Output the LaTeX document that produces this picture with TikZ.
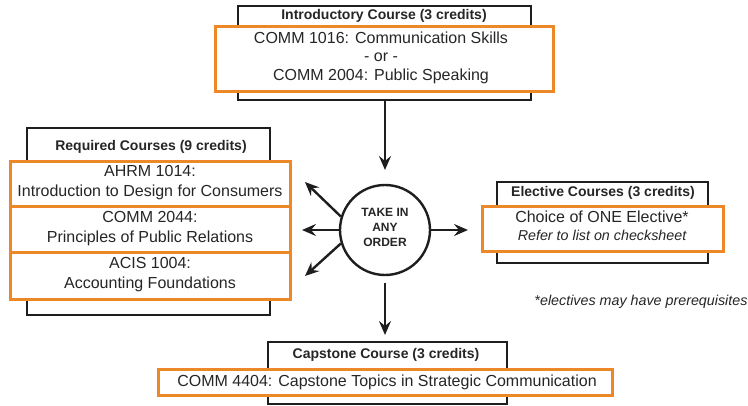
\documentclass[tikz,border=0pt]{standalone}
\usepackage{fontspec}
\setmainfont{Liberation Sans}
\usetikzlibrary{arrows.meta}
\definecolor{borange}{RGB}{236,136,40}
\definecolor{bline}{RGB}{30,30,30}
\tikzset{
  blackbox/.style={draw=bline, line width=2.4pt, inner sep=0, fill=white},
  orangebox/.style={draw=borange, line width=3pt, inner sep=0, fill=white},
  txt/.style={inner sep=0, text height=0.72em, text depth=0pt, text=black!85},
  title/.style={txt, font=\fontsize{14}{16}\selectfont\bfseries},
  body/.style={txt, font=\fontsize{16}{18}\selectfont},
  note/.style={txt, font=\fontsize{14.3}{16}\selectfont\itshape},
  hub/.style={draw=bline, circle, line width=2.4pt, minimum size=90pt, inner sep=0, fill=white},
  hubtxt/.style={txt, font=\fontsize{12}{14}\selectfont\bfseries},
  flow/.style={draw=bline, line width=2.4pt, -{Stealth[length=14pt,width=12pt,inset=5pt]}}
}
\begin{document}
\begin{tikzpicture}[x=1pt,y=-1pt]
\useasboundingbox (0,0) rectangle (748,406);
\fill[white] (0,0) rectangle (748,406);
% Introductory
\node[blackbox, minimum width=293pt, minimum height=94pt] (introB) at (384.5,53) {};
\node[orangebox, minimum width=338pt, minimum height=65pt] (introO) at (384,59.5) {};
\node[title] (introT) at (384,16) {Introductory Course (3 credits)};
\node[body] (introA) at (381,40) {COMM 1016: Communication Skills};
\node[body] (introOr) at (381,58) {- or -};
\node[body] (introC) at (381,77) {COMM 2004: Public Speaking};
% Required
\node[blackbox, minimum width=243pt, minimum height=187pt] (reqB) at (148.5,221.5) {};
\node[orangebox, minimum width=280pt, minimum height=45pt] (reqO1) at (150,184.5) {};
\node[orangebox, minimum width=280pt, minimum height=46pt] (reqO2) at (150,230) {};
\node[orangebox, minimum width=280pt, minimum height=47pt] (reqO3) at (150,276.5) {};
\node[title] (reqT) at (151,147) {Required Courses (9 credits)};
\node[body] (req1a) at (150,173) {AHRM 1014:};
\node[body] (req1b) at (150,193) {Introduction to Design for Consumers};
\node[body] (req2a) at (150,219) {COMM 2044:};
\node[body] (req2b) at (150,239) {Principles of Public Relations};
\node[body] (req3a) at (150,265) {ACIS 1004:};
\node[body] (req3b) at (150,285) {Accounting Foundations};
% Elective
\node[blackbox, minimum width=211pt, minimum height=81pt] (elB) at (602.5,222.5) {};
\node[orangebox, minimum width=241pt, minimum height=45pt] (elO) at (602.5,229.5) {};
\node[title] (elT) at (603,193) {Elective Courses (3 credits)};
\node[body] (elA) at (602,219) {Choice of ONE Elective*};
\node[note] (elB2) at (602,237) {Refer to list on checksheet};
\node[note] (foot) at (641,302) {*electives may have prerequisites};
% Capstone
\node[blackbox, minimum width=239pt, minimum height=62pt] (capB) at (387.5,373) {};
\node[orangebox, minimum width=454pt, minimum height=26pt] (capO) at (385,383) {};
\node[title] (capT) at (386,355) {Capstone Course (3 credits)};
\node[body] (capA) at (387,383) {COMM 4404: Capstone Topics in Strategic Communication};
% Hub
\node[hub] (c) at (385,230) {};
\node[hubtxt] (h1) at (385,213) {TAKE IN};
\node[hubtxt] (h2) at (385,228) {ANY};
\node[hubtxt] (h3) at (385,243) {ORDER};
% arrow ends
\coordinate (tipTop) at (385,170);
\coordinate (tipR) at (468,230);
\coordinate (tipL) at (302,230);
\coordinate (tipUL) at (305,182);
\coordinate (tipLL) at (305,276);
\coordinate (botStart) at (385,283);
\coordinate (tipBot) at (385,335);
\draw[flow] (introB.south -| c.north) -- (tipTop);
\draw[flow] (c.east) -- (tipR);
\draw[flow] (c.west) -- (tipL);
\draw[flow] (c.163) -- (tipUL);
\draw[flow] (c.197) -- (tipLL);
\draw[flow] (botStart) -- (tipBot);
\end{tikzpicture}
\end{document}
